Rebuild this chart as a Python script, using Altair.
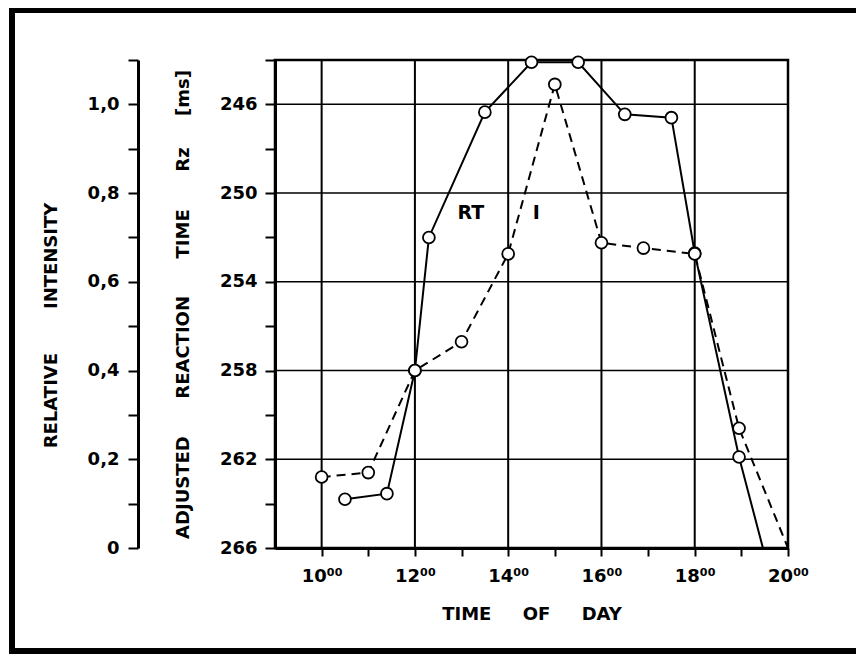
import altair as alt
import pandas as pd

# ---- data ----
rt_hours = [10.5, 11.4, 12.0, 12.3, 13.5, 14.5, 15.5, 16.5, 17.5, 18.0, 18.95, 20.0]
rt_ms = [263.8, 263.55, 258.0, 252.0, 246.35, 244.1, 244.1, 246.45, 246.6, 252.7, 261.9, 270.3]
rt_marker = [True, True, True, True, True, True, True, True, True, True, True, False]

i_hours = [10.0, 11.0, 12.0, 13.0, 14.0, 15.0, 16.0, 16.9, 18.0, 18.95, 20.0]
i_vals = [0.16, 0.17, 0.40, 0.465, 0.663, 1.045, 0.688, 0.676, 0.663, 0.27, 0.0]
i_marker = [True, True, True, True, True, True, True, True, True, True, False]

hour_ticks = [10, 11, 12, 13, 14, 15, 16, 17, 18, 19, 20]
hour_grid = [10, 12, 14, 16, 18]
rt_grid = [246, 250, 254, 258, 262]
rt_ticks = [244, 246, 248, 250, 252, 254, 256, 258, 260, 262, 264, 266]
int_ticks = [0, 0.1, 0.2, 0.3, 0.4, 0.5, 0.6, 0.7, 0.8, 0.9, 1.0, 1.1]

series_labels = ["RT", "I"]
label_hours = [13.2, 14.6]
label_rt = [250.9, 250.9]

NB = "\u00a0"
x_title = "TIME" + NB * 5 + "OF" + NB * 5 + "DAY"
rt_title = "ADJUSTED" + NB * 6 + "REACTION" + NB * 6 + "TIME" + NB * 6 + "Rz" + NB * 5 + "[ms]"
i_title = "RELATIVE" + NB * 7 + "INTENSITY"

rt_df = pd.DataFrame({"hour": rt_hours, "rt": rt_ms, "marker": rt_marker})
i_df = pd.DataFrame({"hour": i_hours, "i": i_vals, "marker": i_marker})
vgrid_df = pd.DataFrame({"hour": hour_grid})
hgrid_df = pd.DataFrame({"rt": rt_grid})
lab_df = pd.DataFrame({"hour": label_hours, "rt": label_rt, "txt": series_labels})
frame_df = pd.DataFrame({"a": [0]})

FONT = "DejaVu Sans"

x_enc = alt.X(
    "hour:Q",
    scale=alt.Scale(domain=[9, 20], nice=False, zero=False),
    axis=alt.Axis(
        values=hour_ticks,
        labelExpr="datum.value % 2 == 0 ? datum.value + '\u2070\u2070' : ''",
        grid=False, tickSize=8, tickWidth=2, domainWidth=3,
        labelPadding=11, labelFontSize=18, labelFontWeight="bold",
        labelFlush=False, labelOverlap=False,
        title=x_title, titleFontSize=18, titleFontWeight="bold", titlePadding=20,
    ),
)

rt_y = alt.Y(
    "rt:Q",
    scale=alt.Scale(domain=[244, 266], reverse=True, nice=False, zero=False),
    axis=alt.Axis(
        orient="left", values=rt_ticks,
        labelExpr="(datum.value >= 246 && (datum.value - 246) % 4 == 0) ? '' + datum.value : ''",
        grid=False, tickSize=10, tickWidth=2, domainWidth=3,
        labelPadding=8, labelFontSize=18, labelFontWeight="bold",
        labelFlush=False, labelOverlap=False,
        title=rt_title, titleFontSize=18, titleFontWeight="bold",
        titleAngle=-90, titleX=-92, titleY=244, titleAlign="center", titleBaseline="middle",
    ),
)

i_y = alt.Y(
    "i:Q",
    scale=alt.Scale(domain=[0, 1.1], nice=False, zero=False),
    axis=alt.Axis(
        orient="left", offset=137, values=int_ticks,
        labelExpr="(abs(round(datum.value * 10)) % 2 == 0 && datum.value < 1.05) ? (datum.value == 0 ? '0' : replace(format(datum.value, '.1f'), '.', ',')) : ''",
        grid=False, tickSize=10, tickWidth=2, domainWidth=3,
        labelPadding=9, labelFontSize=18, labelFontWeight="bold",
        labelFlush=False, labelOverlap=False,
        title=i_title, titleFontSize=18, titleFontWeight="bold",
        titleAngle=-90, titleX=-87, titleY=265, titleAlign="center", titleBaseline="middle",
    ),
)

vgrid = alt.Chart(vgrid_df).mark_rule(color="black", strokeWidth=2).encode(x=x_enc)
hgrid = alt.Chart(hgrid_df).mark_rule(color="black", strokeWidth=1.5).encode(y=rt_y)

rt_line = alt.Chart(rt_df).mark_line(color="black", strokeWidth=2, clip=True).encode(
    x=x_enc, y=rt_y, order="hour:Q")
rt_pts = alt.Chart(rt_df).transform_filter("datum.marker").mark_point(
    shape="circle", size=140, filled=True, fill="white", stroke="black", strokeWidth=1.8, opacity=1
).encode(x=x_enc, y=rt_y)
labels = alt.Chart(lab_df).mark_text(
    font=FONT, fontSize=19, fontWeight="bold", color="black"
).encode(x=x_enc, y=rt_y, text="txt:N")

# outer decorative frame of the figure: left, top and bottom edges (right edge lies off the page)
frame_left = alt.Chart(frame_df).mark_rule(color="black", strokeWidth=6).encode(
    x=alt.value(-263), y=alt.value(-60), y2=alt.value(600))
frame_top = alt.Chart(frame_df).mark_rule(color="black", strokeWidth=6).encode(
    x=alt.value(-266), x2=alt.value(600), y=alt.value(-50))
frame_bottom = alt.Chart(frame_df).mark_rule(color="black", strokeWidth=6).encode(
    x=alt.value(-266), x2=alt.value(600), y=alt.value(591))

rt_layer = alt.layer(vgrid, hgrid, rt_line, labels, frame_left, frame_top, frame_bottom, rt_pts)

i_line = alt.Chart(i_df).mark_line(color="black", strokeWidth=2, strokeDash=[9, 6], clip=True).encode(
    x=x_enc, y=i_y, order="hour:Q")
i_pts = alt.Chart(i_df).transform_filter("datum.marker").mark_point(
    shape="circle", size=140, filled=True, fill="white", stroke="black", strokeWidth=1.8, opacity=1
).encode(x=x_enc, y=i_y)
i_layer = alt.layer(i_line, i_pts)

chart = (
    alt.layer(rt_layer, i_layer)
    .resolve_scale(y="independent")
    .properties(
        width=513, height=488,
        padding={"left": 267, "top": 52, "right": 68, "bottom": 106},
        autosize=alt.AutoSizeParams(type="none"),
        background="white",
    )
    .configure_view(stroke="black", strokeWidth=2.5)
    .configure_axis(
        labelFont=FONT, titleFont=FONT, labelColor="black", titleColor="black",
        domainColor="black", tickColor="black",
    )
)

chart.save("out.html", embed_options={"renderer": "svg", "actions": False})
